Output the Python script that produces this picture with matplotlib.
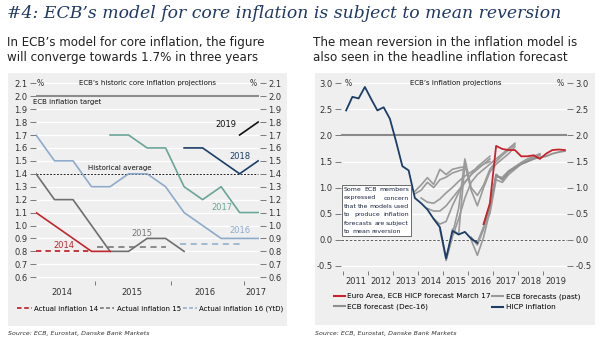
import matplotlib
matplotlib.use('Agg')
import matplotlib.pyplot as plt
import numpy as np
from matplotlib.lines import Line2D
from matplotlib.patches import Rectangle

plt.rcParams['font.family'] = ['DejaVu Sans']
plt.rcParams['axes.unicode_minus'] = False

W, H = 600, 350

# ---------------- left chart: ECB core inflation projections (13 projection rounds)
core_2014 = [1.1, 1.0, 0.9, 0.8, 0.8]                                      # rounds 0-4
core_2015 = [1.4, 1.2, 1.2, 1.0, 0.8, 0.8, 0.9, 0.9, 0.8]                  # rounds 0-8
core_2016 = [1.7, 1.5, 1.5, 1.3, 1.3, 1.4, 1.4, 1.3, 1.1, 1.0, 0.9, 0.9, 0.9]  # rounds 0-12
core_2017 = [1.7, 1.7, 1.6, 1.6, 1.3, 1.2, 1.3, 1.1, 1.1]                  # rounds 4-12
core_2018 = [1.6, 1.6, 1.5, 1.4, 1.5]                                      # rounds 8-12
core_2019 = [1.7, 1.8]                                                     # rounds 11-12
start_2014, start_2015, start_2016, start_2017, start_2018, start_2019 = 0, 0, 0, 4, 8, 11

actual_14_x, actual_14 = [0, 3], [0.8, 0.8]
actual_15_x, actual_15 = [3.3, 7], [0.83, 0.83]
actual_16_x, actual_16 = [7.8, 11], [0.86, 0.86]
ecb_target = 2.0
hist_avg = 1.4
year_bounds = [3.2, 7.27, 11.24]
year_label_pos = [1.4, 5.2, 9.15, 11.9]
year_labels = ['2014', '2015', '2016', '2017']

# ---------------- right chart: quarterly headline HICP, quarter 0 = 2011Q1
hicp = [2.48, 2.74, 2.71, 2.93, 2.70, 2.48, 2.54, 2.32, 1.88, 1.41, 1.33, 0.80,
        0.70, 0.58, 0.40, 0.24, -0.36, 0.17, 0.10, 0.15, 0.02, -0.06]
hicp_start = 0
fc_mar17 = [0.30, 0.70, 1.80, 1.74, 1.72, 1.72, 1.60, 1.60, 1.62, 1.55, 1.65, 1.72, 1.73, 1.72]
fc_mar17_start = 22
fc_dec16 = [0.30, 0.65, 1.25, 1.15, 1.30, 1.38, 1.45, 1.50, 1.55, 1.58, 1.60, 1.65, 1.68, 1.70]
fc_dec16_start = 22
# past ECB forecasts: (start quarter, values)
past_a = (11, [0.93, 1.05, 1.19, 1.06, 1.35, 1.25, 1.35, 1.38, 1.40])
past_b = (11, [0.88, 0.95, 1.10, 1.00, 1.15, 1.20, 1.28, 1.32, 1.36])
past_c = (12, [0.80, 0.72, 0.70, 0.78, 0.90, 1.00, 1.12, 1.22, 1.30, 1.38, 1.45, 1.50])
past_d = (13, [0.60, 0.55, 0.55, 0.65, 0.80, 0.95, 1.10, 1.25, 1.35, 1.45, 1.55])
past_e = (14, [0.40, 0.30, 0.35, 0.65, 0.90, 1.10, 1.25, 1.40, 1.50, 1.60])
past_f = (15, [0.20, -0.40, 0.05, 0.40, 0.80, 1.10, 1.25, 1.35, 1.45, 1.55, 1.65, 1.75, 1.85])
past_g = (16, [-0.35, 0.10, 0.60, 1.55, 1.00, 0.85, 1.05, 1.35, 1.50, 1.62, 1.72, 1.82])
past_h = (17, [0.20, 0.10, 1.45, 0.95, 0.65, 1.00, 1.30, 1.45, 1.55, 1.65, 1.78])
past_i = (20, [0.00, -0.30, 0.05, 0.55, 1.25, 1.15, 1.30, 1.38, 1.45, 1.50, 1.55, 1.62])
past_j = (20, [0.05, -0.10, 0.20, 0.65, 1.20, 1.20, 1.32, 1.40, 1.48, 1.55, 1.60, 1.65])
past_k = (21, [-0.05, 0.25, 0.50, 1.15, 1.10, 1.25, 1.35, 1.45, 1.52, 1.58, 1.63])
past_forecasts = [past_a, past_b, past_c, past_d, past_e, past_f,
                  past_g, past_h, past_i, past_j, past_k]

box_lines = ['Some ECB members', 'expressed concern', 'that the models used',
             'to produce inflation', 'forecasts are subject', 'to mean reversion']

# colours
panel_bg = '#efefef'
navy = '#1c3d66'
red = '#c8232c'
c14, c15, c16, c17, c18, c19 = '#c0272d', '#6e6e6e', '#8eaacb', '#6aa597', '#1c3d66', '#111111'
fc_gray = '#9a9a9a'
tick_col = '#333333'


def qx(start, n):
    return 2011 + (start + np.arange(n)) / 4 + 0.125


def rect(x0, y0, x1, y1):
    # pixel box (y from top) -> figure fraction [l, b, w, h]
    return [x0 / W, 1 - y1 / H, (x1 - x0) / W, (y1 - y0) / H]


fig = plt.figure(figsize=(6, 3.5), dpi=100)

# grey panels
for box in (rect(8, 73, 287, 326), rect(315, 73, 595, 325)):
    fig.patches.append(Rectangle((box[0], box[1]), box[2], box[3], transform=fig.transFigure,
                                 facecolor=panel_bg, edgecolor='none', zorder=-5))

# titles
fig.text(7 / W, 1 - 13 / H, '#4: ECB\u2019s model for core inflation is subject to mean reversion',
         family='DejaVu Serif', style='italic', fontsize=12.4, color='#1f3864', va='center')
fig.text(7 / W, 1 - 50 / H, 'In ECB\u2019s model for core inflation, the figure\nwill converge towards 1.7% in three years',
         fontsize=8.6, color='#222222', va='center', linespacing=1.25)
fig.text(313 / W, 1 - 50 / H, 'The mean reversion in the inflation model is\nalso seen in the headline inflation forecast',
         fontsize=8.6, color='#222222', va='center', linespacing=1.25)
fig.text(8 / W, 1 - 334 / H, 'Source: ECB, Eurostat, Danske Bank Markets', fontsize=4.5,
         style='italic', color='#333333', va='center')
fig.text(315 / W, 1 - 334 / H, 'Source: ECB, Eurostat, Danske Bank Markets', fontsize=4.5,
         style='italic', color='#333333', va='center')


def style_axes(ax):
    ax.set_facecolor(panel_bg)
    for s in ax.spines.values():
        s.set_visible(False)
    ax.grid(axis='y', color='white', lw=0.9)
    ax.set_axisbelow(True)
    ax.tick_params(axis='y', which='both', left=True, right=True, labelleft=True, labelright=True,
                   length=4, width=0.6, color='#666666', labelsize=6, labelcolor=tick_col, pad=2)
    ax.tick_params(axis='x', which='major', length=3, width=0.6, color='#666666', labelbottom=False)
    ax.tick_params(axis='x', which='minor', length=0, labelsize=6, labelcolor=tick_col, pad=5)


# ---------------- left chart
ax1 = fig.add_axes(rect(36, 80.7, 260, 281.1))
style_axes(ax1)
ax1.set_xlim(0, 12.1)
ax1.set_ylim(0.57, 2.12)
ax1.set_yticks(np.round(np.arange(0.6, 2.15, 0.1), 1))
ax1.yaxis.set_major_formatter('{x:.1f}')
ax1.set_xticks(year_bounds)
ax1.set_xticks(year_label_pos, minor=True)
ax1.set_xticklabels(year_labels, minor=True)

ax1.axhline(ecb_target, color='#8c8c8c', lw=1.5, xmin=0, xmax=12 / 12.1)
ax1.axhline(hist_avg, color='#222222', lw=0.7, ls=(0, (2, 1.5)), xmin=0, xmax=12 / 12.1)

ax1.plot(actual_14_x, actual_14, color=c14, lw=1.3, ls=(0, (3, 2.2)))
ax1.plot(actual_15_x, actual_15, color=c15, lw=1.1, ls=(0, (4, 3)))
ax1.plot(actual_16_x, actual_16, color=c16, lw=1.1, ls=(0, (4, 3)))

for start, vals, col in [(start_2016, core_2016, c16), (start_2015, core_2015, c15),
                         (start_2014, core_2014, c14), (start_2017, core_2017, c17),
                         (start_2018, core_2018, c18), (start_2019, core_2019, c19)]:
    ax1.plot(np.arange(start, start + len(vals)), vals, color=col, lw=1.2)

ax1.text(1.5, 0.845, '2014', color=c14, fontsize=6, ha='center', va='center')
ax1.text(5.7, 0.94, '2015', color='#777777', fontsize=6, ha='center', va='center')
ax1.text(11.0, 0.965, '2016', color=c16, fontsize=6, ha='center', va='center')
ax1.text(10.05, 1.14, '2017', color=c17, fontsize=6, ha='center', va='center')
ax1.text(11.0, 1.53, '2018', color=c18, fontsize=6, ha='center', va='center')
ax1.text(10.85, 1.785, '2019', color='#111111', fontsize=6, ha='right', va='center')
ax1.text(4.55, 1.443, 'Historical average', color='#111111', fontsize=5, ha='center', va='center')
ax1.text(-0.15, 1.958, 'ECB inflation target', color='#111111', fontsize=5, ha='left', va='center')
ax1.text(6.0, 2.1, 'ECB\u2019s historic core inflation projections', color='#111111', fontsize=5,
         ha='center', va='center')
ax1.text(0.05, 2.1, '%', color='#333333', fontsize=5.5, ha='left', va='center')
ax1.text(11.95, 2.1, '%', color='#333333', fontsize=5.5, ha='right', va='center')

leg_handles = [Line2D([], [], color=c14, lw=1.3, ls=(0, (2.5, 1.5))),
               Line2D([], [], color=c15, lw=1.1, ls=(0, (2.5, 1.5))),
               Line2D([], [], color=c16, lw=1.1, ls=(0, (2.5, 1.5)))]
fig.legend(leg_handles, ['Actual inflation 14', 'Actual inflation 15', 'Actual inflation 16 (YtD)'],
           loc='center left', bbox_to_anchor=(17 / W, 1 - 309 / H), ncol=3, frameon=False,
           fontsize=5, handlelength=2.1, handletextpad=0.3, columnspacing=0.3,
           borderpad=0, borderaxespad=0)

# ---------------- right chart
ax2 = fig.add_axes(rect(341, 80.7, 567, 271))
style_axes(ax2)
ax2.set_xlim(2010.92, 2019.96)
ax2.set_ylim(-0.6, 3.05)
ax2.set_yticks(np.arange(-0.5, 3.01, 0.5))
ax2.yaxis.set_major_formatter('{x:.1f}')
ax2.set_xticks(np.arange(2011, 2020))
ax2.set_xticks(np.arange(2011, 2020) + 0.5, minor=True)
ax2.set_xticklabels([str(y) for y in range(2011, 2020)], minor=True)
ax2.tick_params(axis='x', which='minor', pad=4)

ax2.axhline(2.0, color='#8a8a8a', lw=1.5)
ax2.axhline(0.0, color='#444444', lw=0.6, ls=(0, (3, 2)))

for start, vals in past_forecasts:
    ax2.plot(qx(start, len(vals)), vals, color=fc_gray, lw=1.2)
ax2.plot(qx(fc_dec16_start, len(fc_dec16)), fc_dec16, color='#8f8f8f', lw=1.3)
ax2.plot(qx(fc_mar17_start, len(fc_mar17)), fc_mar17, color=red, lw=1.3)
ax2.plot(qx(hicp_start, len(hicp)), hicp, color=navy, lw=1.3)

ax2.text(2015.5, 3.0, 'ECB\u2019s inflation projections', color='#111111', fontsize=5,
         ha='center', va='center')
ax2.text(2011.05, 3.0, '%', color='#333333', fontsize=5.5, ha='left', va='center')
ax2.text(2019.85, 3.0, '%', color='#333333', fontsize=5.5, ha='right', va='center')

leg2_handles = [Line2D([], [], color=red, lw=1.5), Line2D([], [], color='#8f8f8f', lw=1.5),
                Line2D([], [], color=fc_gray, lw=1.5), Line2D([], [], color=navy, lw=1.5)]
fig.legend(leg2_handles, ['Euro Area, ECB HICP forecast March 17', 'ECB forecast (Dec-16)',
                          'ECB forecasts (past)', 'HICP inflation'],
           loc='upper left', bbox_to_anchor=(334 / W, 1 - 293 / H), ncol=2, frameon=False,
           fontsize=5.3, handlelength=1.5, handletextpad=0.3, columnspacing=0.2,
           labelspacing=0.6, borderpad=0, borderaxespad=0)

# ---------------- annotation box with justified text
bx0, by0, bx1, by1 = 342, 185, 411, 236
box = rect(bx0, by0, bx1, by1)
fig.patches.append(Rectangle((box[0], box[1]), box[2], box[3], transform=fig.transFigure,
                             facecolor='white', edgecolor='#555555', lw=0.6, zorder=5))
renderer = fig.canvas.get_renderer()
pad = 2
for i, line in enumerate(box_lines):
    words = line.split()
    yy = 1 - (by0 + 4.6 + i * 8.4) / H
    texts = [fig.text(0, yy, w, fontsize=4.5, color='#1a2440', va='center', ha='left', zorder=6)
             for w in words]
    widths = [t.get_window_extent(renderer).width for t in texts]
    inner = (bx1 - bx0) - 2 * pad
    if i < len(box_lines) - 1 and len(words) > 1:
        gap = (inner - sum(widths)) / (len(words) - 1)
    else:
        gap = 0.28 * 4.5 * 100 / 72
    x = bx0 + pad
    for t, w in zip(texts, widths):
        t.set_x(x / W)
        x += w + gap

fig.savefig('out.png', dpi=100)
